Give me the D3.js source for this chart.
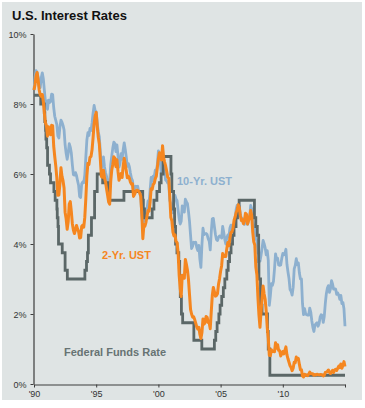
<!DOCTYPE html>
<html>
<head>
<meta charset="utf-8">
<script src="https://cdn.jsdelivr.net/npm/d3@7"></script>
<style>
  body { margin: 0; background: #fff; }
  text { font-family: "Liberation Sans", Arial, sans-serif; }
</style>
</head>
<body>
<div id="chart"></div>
<script>
// monthly values, Jan 1990 .. Jan 2015
const tenYear = [
  8.40, 8.75, 8.95, 8.90, 8.76, 8.48, 8.47, 8.75, 8.89, 8.72, 8.39, 8.08, // 1990
  8.09, 7.85, 8.11, 8.04, 8.07, 8.28, 8.27, 7.90, 7.65, 7.53, 7.42, 7.09, // 1991
  7.03, 7.34, 7.54, 7.48, 7.39, 7.26, 6.84, 6.59, 6.42, 6.59, 6.87, 6.77, // 1992
  6.60, 6.26, 5.98, 5.97, 6.04, 5.96, 5.81, 5.68, 5.36, 5.33, 5.72, 5.77, // 1993
  5.75, 5.97, 6.48, 6.97, 7.18, 7.10, 7.30, 7.24, 7.46, 7.74, 7.96, 7.81, // 1994
  7.78, 7.47, 7.20, 7.06, 6.63, 6.17, 6.28, 6.49, 6.20, 6.04, 5.93, 5.71, // 1995
  5.65, 5.81, 6.27, 6.51, 6.74, 6.91, 6.87, 6.64, 6.83, 6.53, 6.20, 6.30, // 1996
  6.58, 6.42, 6.69, 6.89, 6.71, 6.49, 6.22, 6.30, 6.21, 6.03, 5.88, 5.81, // 1997
  5.54, 5.57, 5.65, 5.64, 5.65, 5.50, 5.46, 5.34, 4.81, 4.53, 4.83, 4.65, // 1998
  4.72, 5.00, 5.23, 5.18, 5.54, 5.90, 5.79, 5.94, 5.92, 6.11, 6.03, 6.28, // 1999
  6.66, 6.52, 6.26, 5.99, 6.44, 6.10, 6.05, 5.83, 5.80, 5.74, 5.72, 5.24, // 2000
  5.16, 5.10, 4.89, 5.14, 5.39, 5.28, 5.24, 4.97, 4.73, 4.57, 4.65, 5.09, // 2001
  5.04, 4.91, 5.28, 5.21, 5.16, 4.93, 4.65, 4.26, 3.87, 3.94, 4.05, 4.03, // 2002
  4.05, 3.90, 3.81, 3.96, 3.57, 3.33, 3.98, 4.45, 4.27, 4.29, 4.30, 4.27, // 2003
  4.15, 4.08, 3.83, 4.35, 4.72, 4.73, 4.50, 4.28, 4.13, 4.10, 4.19, 4.23, // 2004
  4.22, 4.17, 4.50, 4.34, 4.14, 4.00, 4.18, 4.26, 4.20, 4.46, 4.54, 4.47, // 2005
  4.42, 4.57, 4.72, 4.99, 5.11, 5.11, 5.09, 4.88, 4.72, 4.73, 4.60, 4.56, // 2006
  4.76, 4.72, 4.56, 4.69, 4.75, 5.10, 5.00, 4.67, 4.52, 4.53, 4.15, 4.10, // 2007
  3.74, 3.74, 3.51, 3.68, 3.88, 4.10, 4.01, 3.89, 3.69, 3.81, 3.53, 2.25, // 2008
  2.52, 2.87, 2.82, 2.93, 3.29, 3.72, 3.56, 3.59, 3.40, 3.39, 3.40, 3.59, // 2009
  3.73, 3.69, 3.73, 3.85, 3.42, 3.20, 3.01, 2.70, 2.65, 2.54, 2.76, 3.29, // 2010
  3.39, 3.58, 3.41, 3.46, 3.17, 3.00, 3.00, 2.30, 1.98, 2.15, 2.01, 1.98, // 2011
  1.97, 1.97, 2.17, 2.05, 1.80, 1.62, 1.50, 1.68, 1.72, 1.75, 1.65, 1.72, // 2012
  1.91, 1.98, 1.96, 1.76, 1.93, 2.30, 2.58, 2.74, 2.81, 2.62, 2.72, 2.95, // 2013
  2.86, 2.71, 2.72, 2.71, 2.56, 2.60, 2.54, 2.42, 2.53, 2.30, 2.33, 2.15, // 2014
  1.65                                                                    // 2015
];

const twoYear = [
  8.40, 8.55, 8.80, 8.90, 8.69, 8.40, 8.26, 8.22, 8.27, 8.07, 7.74, 7.47, // 1990
  7.38, 7.08, 7.35, 7.23, 7.12, 7.39, 7.38, 6.80, 6.50, 6.23, 5.90, 5.39, // 1991
  5.40, 5.72, 6.18, 5.93, 5.81, 5.60, 4.91, 4.72, 4.42, 4.64, 5.14, 5.21, // 1992
  4.93, 4.58, 4.40, 4.30, 4.40, 4.53, 4.43, 4.36, 4.17, 4.18, 4.50, 4.54, // 1993
  4.48, 4.76, 5.30, 5.94, 6.31, 6.27, 6.48, 6.50, 6.69, 7.04, 7.44, 7.66, // 1994
  7.76, 7.37, 7.05, 6.86, 6.41, 5.93, 5.91, 6.11, 5.89, 5.77, 5.57, 5.39, // 1995
  5.20, 5.14, 5.79, 6.11, 6.27, 6.49, 6.45, 6.21, 6.41, 6.08, 5.82, 5.91, // 1996
  6.01, 5.90, 6.22, 6.45, 6.28, 6.09, 5.89, 5.94, 5.88, 5.77, 5.71, 5.72, // 1997
  5.36, 5.42, 5.49, 5.54, 5.53, 5.51, 5.46, 5.36, 4.85, 4.15, 4.54, 4.51, // 1998
  4.62, 4.79, 4.96, 4.94, 5.20, 5.58, 5.56, 5.70, 5.74, 5.87, 5.94, 6.19, // 1999
  6.44, 6.61, 6.53, 6.40, 6.81, 6.48, 6.34, 6.23, 6.08, 5.91, 5.88, 5.35, // 2000
  4.76, 4.66, 4.34, 4.23, 4.26, 4.08, 4.04, 3.76, 3.12, 2.73, 2.50, 3.11, // 2001
  3.03, 3.02, 3.56, 3.42, 3.26, 2.99, 2.56, 2.13, 2.00, 1.91, 1.92, 1.84, // 2002
  1.74, 1.63, 1.57, 1.62, 1.42, 1.30, 1.47, 1.86, 1.71, 1.75, 1.93, 1.91, // 2003
  1.76, 1.74, 1.58, 2.07, 2.53, 2.76, 2.64, 2.51, 2.53, 2.58, 2.85, 3.01, // 2004
  3.22, 3.38, 3.73, 3.65, 3.64, 3.64, 3.87, 4.04, 3.95, 4.17, 4.33, 4.35, // 2005
  4.45, 4.68, 4.77, 4.90, 4.97, 5.12, 5.04, 4.82, 4.67, 4.69, 4.58, 4.67, // 2006
  4.88, 4.85, 4.57, 4.67, 4.77, 4.96, 4.82, 4.34, 4.06, 3.97, 3.34, 3.12, // 2007
  2.48, 1.97, 1.62, 2.05, 2.45, 2.80, 2.57, 2.42, 2.08, 1.61, 1.29, 0.82, // 2008
  0.81, 0.98, 0.93, 0.93, 0.92, 1.18, 1.02, 1.12, 0.96, 0.95, 0.80, 0.87, // 2009
  0.93, 0.86, 0.96, 1.06, 0.83, 0.72, 0.62, 0.52, 0.47, 0.38, 0.45, 0.62, // 2010
  0.61, 0.77, 0.70, 0.73, 0.56, 0.41, 0.41, 0.23, 0.20, 0.28, 0.25, 0.26, // 2011
  0.24, 0.28, 0.34, 0.29, 0.29, 0.29, 0.25, 0.27, 0.26, 0.28, 0.27, 0.26, // 2012
  0.27, 0.27, 0.26, 0.23, 0.25, 0.33, 0.34, 0.36, 0.40, 0.34, 0.30, 0.34, // 2013
  0.39, 0.33, 0.40, 0.42, 0.39, 0.45, 0.51, 0.47, 0.57, 0.45, 0.53, 0.64, // 2014
  0.50                                                                    // 2015
];

// fed funds target: [decimal year, rate] change points
const fedFunds = [
  [1990.00, 8.25], [1990.54, 8.00], [1990.83, 7.75], [1990.87, 7.50], [1990.93, 7.25],
  [1990.96, 7.00], [1991.02, 6.75], [1991.09, 6.25], [1991.24, 6.00], [1991.33, 5.75],
  [1991.60, 5.50], [1991.70, 5.25], [1991.84, 5.00], [1991.87, 4.75], [1991.93, 4.50],
  [1991.97, 4.00], [1992.27, 3.75], [1992.50, 3.25], [1992.68, 3.00], [1994.09, 3.25],
  [1994.22, 3.50], [1994.30, 3.75], [1994.37, 4.25], [1994.62, 4.75], [1994.87, 5.50],
  [1995.08, 6.00], [1995.52, 5.75], [1995.97, 5.50], [1996.08, 5.25], [1997.23, 5.50],
  [1998.74, 5.25], [1998.79, 5.00], [1998.88, 4.75], [1999.50, 5.00], [1999.64, 5.25],
  [1999.88, 5.50], [2000.09, 5.75], [2000.22, 6.00], [2000.38, 6.50], [2001.01, 6.00],
  [2001.08, 5.50], [2001.22, 5.00], [2001.30, 4.50], [2001.38, 4.00], [2001.49, 3.75],
  [2001.64, 3.50], [2001.71, 3.00], [2001.76, 2.50], [2001.85, 2.00], [2001.95, 1.75],
  [2002.85, 1.25], [2003.49, 1.00], [2004.50, 1.25], [2004.61, 1.50], [2004.72, 1.75],
  [2004.86, 2.00], [2004.96, 2.25], [2005.09, 2.50], [2005.22, 2.75], [2005.34, 3.00],
  [2005.50, 3.25], [2005.61, 3.50], [2005.72, 3.75], [2005.84, 4.00], [2005.96, 4.25],
  [2006.08, 4.50], [2006.24, 4.75], [2006.36, 5.00], [2006.49, 5.25], [2007.72, 4.75],
  [2007.83, 4.50], [2007.95, 4.25], [2008.06, 3.50], [2008.08, 3.00], [2008.21, 2.25],
  [2008.33, 2.00], [2008.77, 1.50], [2008.83, 1.00], [2008.96, 0.25], [2015.00, 0.25]
];

const yTicks = [0, 2, 4, 6, 8, 10];
const xTicks = [1990, 1995, 2000, 2005, 2010, 2015];
const xTickLabels = ["'90", "'95", "'00", "'05", "'10", ""];

const width = 365, height = 408;

const svg = d3.select("#chart")
    .append("svg")
    .attr("width", width)
    .attr("height", height);

// panel background
svg.append("rect")
    .attr("x", 2).attr("y", 2)
    .attr("width", 360).attr("height", 398)
    .attr("fill", "#dfe4e4");

svg.append("text")
    .attr("x", 12)
    .attr("y", 20)
    .style("font-size", "13px")
    .style("font-weight", "bold")
    .style("fill", "#111")
    .text("U.S. Interest Rates");

const x = d3.scaleLinear().domain([1990, 2015]).range([34, 345]);
const y = d3.scaleLinear().domain([0, 10]).range([384, 34]);

// axes
const yAxis = svg.append("g")
    .attr("transform", "translate(33.5,0)")
    .call(d3.axisLeft(y).tickValues(yTicks).tickSize(3).tickSizeOuter(0)
        .tickFormat(d => d + "%"));

const xAxis = svg.append("g")
    .attr("transform", "translate(0,384.5)")
    .call(d3.axisBottom(x).tickValues(xTicks).tickSize(3).tickSizeOuter(0)
        .tickFormat((d, i) => xTickLabels[i]));

[yAxis, xAxis].forEach(g => {
    g.select(".domain").attr("stroke", "#3c3c3c").attr("stroke-width", 1.2);
    g.selectAll(".tick line").attr("stroke", "#3c3c3c");
    g.selectAll(".tick text")
        .style("font-family", "'Liberation Sans', Arial, sans-serif")
        .style("font-size", "9px")
        .style("fill", "#333");
});
yAxis.selectAll(".tick text").attr("x", -7).attr("dy", "0.35em");
xAxis.selectAll(".tick text").attr("y", 6);

const monthly = vals => vals.map((v, i) => ({ t: 1990 + i / 12, v: v }));

const line = d3.line()
    .x(d => x(d.t))
    .y(d => y(d.v));

const stepLine = d3.line()
    .curve(d3.curveStepAfter)
    .x(d => x(d[0]))
    .y(d => y(d[1]));

svg.append("path")
    .datum(monthly(tenYear))
    .attr("d", line)
    .attr("fill", "none")
    .attr("stroke", "#8db0cf")
    .attr("stroke-width", 2.8)
    .attr("stroke-linejoin", "round");

svg.append("path")
    .datum(fedFunds)
    .attr("d", stepLine)
    .attr("fill", "none")
    .attr("stroke", "#5b6767")
    .attr("stroke-width", 2.8);

svg.append("path")
    .datum(monthly(twoYear))
    .attr("d", line)
    .attr("fill", "none")
    .attr("stroke", "#f5861f")
    .attr("stroke-width", 3)
    .attr("stroke-linejoin", "round");

// series labels
const labels = [
    { text: "10-Yr. UST", x: 177, y: 185, color: "#8db0cf" },
    { text: "2-Yr. UST", x: 102, y: 259, color: "#f5861f" },
    { text: "Federal Funds Rate", x: 64, y: 356, color: "#677373" }
];

svg.selectAll("text.series")
    .data(labels)
    .join("text")
    .attr("class", "series")
    .attr("x", d => d.x)
    .attr("y", d => d.y)
    .style("font-size", "11px")
    .style("font-weight", "bold")
    .style("fill", d => d.color)
    .text(d => d.text);
</script>
</body>
</html>
